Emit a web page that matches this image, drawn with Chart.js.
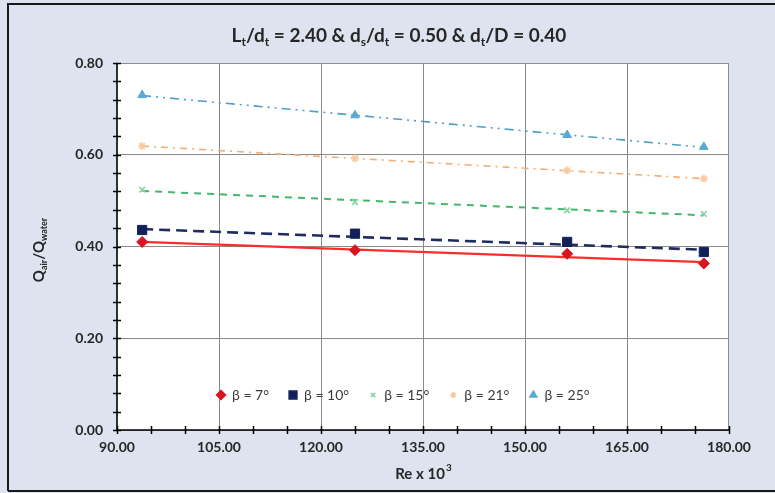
<!DOCTYPE html>
<html>
<head>
<meta charset="utf-8">
<script src="https://cdn.jsdelivr.net/npm/chart.js@4/dist/chart.umd.min.js"></script>
<style>
    html, body { margin: 0; padding: 0; background: #dde4ef; }
    #wrap { width: 775px; height: 493px; }
</style>
</head>
<body>
<div id="wrap"><canvas id="flowChart" width="775" height="493"></canvas></div>
<script>
// Re x 10^3 values of the measured points
const reValues = [93.7, 125.0, 156.2, 176.3];

// Q_air / Q_water for every blade angle
const beta7 = [0.410, 0.392, 0.384, 0.363];
const beta10 = [0.436, 0.428, 0.410, 0.388];
const beta15 = [0.524, 0.497, 0.479, 0.471];
const beta21 = [0.619, 0.592, 0.566, 0.548];
const beta25 = [0.730, 0.686, 0.643, 0.617];

// linear trend lines, start / end values
const trendRe = [93.7, 176.3];
const trend7 = [0.410, 0.366];
const trend10 = [0.438, 0.393];
const trend15 = [0.521, 0.468];
const trend21 = [0.619, 0.548];
const trend25 = [0.729, 0.616];

const legendLabels = ['β = 7°', 'β = 10°', 'β = 15°', 'β = 21°', 'β = 25°'];
const xTickLabels = ['90.00', '105.00', '120.00', '135.00', '150.00', '165.00', '180.00'];
const yTickLabels = ['0.00', '0.20', '0.40', '0.60', '0.80'];

const FONT = 'Lato, "Open Sans", sans-serif';

function toPoints(xs, ys) {
    return xs.map((x, i) => ({ x: x, y: ys[i] }));
}

const series = [
    { data: beta7, trend: trend7, color: '#d8141f', line: '#ff2b2b', style: 'rectRot', radius: 5.5, width: 2.2, dash: [] },
    { data: beta10, trend: trend10, color: '#12205a', line: '#1e2d5e', style: 'rect', radius: 6.5, width: 2.6, dash: [11, 6] },
    { data: beta15, trend: trend15, color: '#86d3a6', line: '#45b66c', style: 'crossRot', radius: 4, width: 2, dash: [7, 6] },
    { data: beta21, trend: trend21, color: '#f8caa0', line: '#f4ae76', style: 'star', radius: 4, width: 1.6, dash: [7, 5, 2, 5] },
    { data: beta25, trend: trend25, color: '#5aa8d4', line: '#4d9ec8', style: 'triangle', radius: 5, width: 1.6, dash: [9, 5, 2, 5, 2, 5] }
];

const datasets = [];
series.forEach((s, i) => {
    datasets.push({
        label: legendLabels[i] + ' trend',
        data: toPoints(trendRe, s.trend),
        showLine: true,
        borderColor: s.line,
        borderWidth: s.width,
        borderDash: s.dash,
        pointRadius: 0,
        fill: false,
        order: 10
    });
    datasets.push({
        label: legendLabels[i],
        data: toPoints(reValues, s.data),
        showLine: false,
        pointStyle: s.style,
        pointRadius: s.radius,
        pointBackgroundColor: s.color,
        pointBorderColor: s.color,
        pointBorderWidth: s.style === 'crossRot' || s.style === 'star' ? 1.6 : 1,
        order: 1
    });
});

// draws text with subscript parts, parts = [[text, isSub], ...]
function drawRich(ctx, parts, x, y, size, weight) {
    const subSize = Math.round(size * 0.62);
    let total = 0;
    parts.forEach(p => {
        ctx.font = weight + ' ' + (p[1] ? subSize : size) + 'px ' + FONT;
        total += ctx.measureText(p[0]).width;
    });
    let cx = x - total / 2;
    ctx.textAlign = 'left';
    ctx.textBaseline = 'alphabetic';
    parts.forEach(p => {
        ctx.font = weight + ' ' + (p[1] ? subSize : size) + 'px ' + FONT;
        ctx.fillText(p[0], cx, p[1] ? y + size * 0.22 : y);
        cx += ctx.measureText(p[0]).width;
    });
}

const decorPlugin = {
    id: 'decor',
    beforeDraw(chart) {
        const ctx = chart.ctx;
        const a = chart.chartArea;
        ctx.save();
        ctx.fillStyle = '#dde4ef';
        ctx.fillRect(0, 0, chart.width, chart.height);
        ctx.fillStyle = '#ffffff';
        ctx.fillRect(a.left, a.top, a.right - a.left, a.bottom - a.top);
        // outer frame
        ctx.strokeStyle = '#1a1a1a';
        ctx.lineWidth = 2;
        ctx.beginPath();
        ctx.moveTo(8, chart.height - 2);
        ctx.lineTo(8, 4);
        ctx.lineTo(chart.width, 4);
        ctx.moveTo(8, chart.height - 2);
        ctx.lineTo(chart.width, chart.height - 2);
        ctx.stroke();
        ctx.restore();
    },
    afterDraw(chart) {
        const ctx = chart.ctx;
        const a = chart.chartArea;
        const xs = chart.scales.x;
        const ys = chart.scales.y;
        ctx.save();
        // plot frame on top/right
        ctx.strokeStyle = '#8c8c8c';
        ctx.lineWidth = 1;
        ctx.strokeRect(a.left, a.top + 0.5, a.right - a.left - 0.5, a.bottom - a.top);

        // axis lines and crossing tick marks
        ctx.strokeStyle = '#000000';
        ctx.lineWidth = 1.5;
        ctx.beginPath();
        ctx.moveTo(a.left, a.top);
        ctx.lineTo(a.left, a.bottom);
        ctx.lineTo(a.right, a.bottom);
        ys.ticks.forEach(t => {
            const py = Math.round(ys.getPixelForValue(t.value)) + 0.5;
            ctx.moveTo(a.left - 4, py);
            ctx.lineTo(a.left + 4, py);
        });
        xs.ticks.forEach(t => {
            const px = Math.round(xs.getPixelForValue(t.value)) + 0.5;
            ctx.moveTo(px, a.bottom - 4);
            ctx.lineTo(px, a.bottom + 4);
        });
        ctx.stroke();

        // title
        ctx.fillStyle = '#262626';
        drawRich(ctx, [['L', 0], ['t', 1], ['/d', 0], ['t', 1], [' = 2.40 & d', 0], ['s', 1], ['/d', 0], ['t', 1],
            [' = 0.50 & d', 0], ['t', 1], ['/D = 0.40', 0]], 399, 42, 19, 'bold');

        // x axis title
        drawRich(ctx, [['Re x 10', 0]], 420, 479, 15, 'bold');
        ctx.font = 'bold 10px ' + FONT;
        ctx.fillText('3', 446, 471);

        // y axis title
        ctx.save();
        ctx.translate(44, 250);
        ctx.rotate(-Math.PI / 2);
        drawRich(ctx, [['Q', 0], ['air', 1], ['/Q', 0], ['water', 1]], 0, 0, 15, 'bold');
        ctx.restore();

        // legend inside the plot
        let lx = 221;
        const ly = 395;
        ctx.font = '14px ' + FONT;
        ctx.textBaseline = 'middle';
        series.forEach((s, i) => {
            ctx.fillStyle = s.color;
            ctx.strokeStyle = s.color;
            Chart.helpers.drawPoint(ctx, {
                pointStyle: s.style,
                radius: s.radius - 1,
                rotation: 0,
                borderWidth: s.style === 'crossRot' || s.style === 'star' ? 1.6 : 1
            }, lx, ly);
            ctx.fillStyle = '#3a3a3a';
            ctx.textAlign = 'left';
            ctx.fillText(legendLabels[i], lx + 11, ly);
            lx += 11 + ctx.measureText(legendLabels[i]).width + 24;
        });
        ctx.restore();
    }
};

function isMultiple(v, step) {
    return Math.abs(v / step - Math.round(v / step)) < 1e-6;
}

new Chart(document.getElementById('flowChart'), {
    type: 'scatter',
    data: { datasets: datasets },
    options: {
        responsive: false,
        animation: false,
        layout: { padding: { top: 63, right: 46, bottom: 0, left: 0 } },
        plugins: {
            legend: { display: false },
            title: { display: false },
            tooltip: { enabled: false }
        },
        scales: {
            x: {
                type: 'linear',
                min: 90,
                max: 180,
                afterFit: scale => { scale.height = 63; },
                ticks: {
                    stepSize: 5,
                    padding: 9,
                    autoSkip: false,
                    maxRotation: 0,
                    minRotation: 0,
                    color: '#262626',
                    font: { family: FONT, size: 14, weight: 'bold' },
                    callback: function(value) {
                        if (!isMultiple(value - 90, 15)) return '';
                        return xTickLabels[Math.round((value - 90) / 15)];
                    }
                },
                grid: {
                    drawTicks: false,
                    color: ctx => {
                        const v = ctx.tick ? ctx.tick.value : 0;
                        return isMultiple(v - 90, 15) && v > 90 && v < 180 ? '#8a8a8a' : 'rgba(0,0,0,0)';
                    }
                },
                border: { display: false }
            },
            y: {
                min: 0,
                max: 0.8,
                afterFit: scale => { scale.width = 117; },
                ticks: {
                    stepSize: 0.04,
                    padding: 14,
                    autoSkip: false,
                    color: '#262626',
                    font: { family: FONT, size: 14, weight: 'bold' },
                    callback: function(value) {
                        if (!isMultiple(value, 0.2)) return '';
                        return yTickLabels[Math.round(value / 0.2)];
                    }
                },
                grid: {
                    drawTicks: false,
                    color: ctx => {
                        const v = ctx.tick ? ctx.tick.value : 0;
                        return isMultiple(v, 0.2) && v > 0.01 && v < 0.79 ? '#8a8a8a' : 'rgba(0,0,0,0)';
                    }
                },
                border: { display: false }
            }
        }
    },
    plugins: [decorPlugin]
});
</script>
</body>
</html>
